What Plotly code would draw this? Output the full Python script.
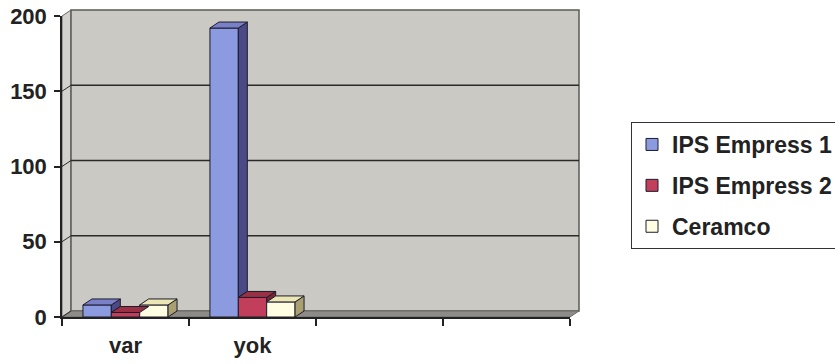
import plotly.graph_objects as go

categories = ["var", "yok", " ", "  "]
data_categories = ["var", "yok"]
series_names = ["IPS Empress 1", "IPS Empress 2", "Ceramco"]
ips_empress_1 = [8, 192]
ips_empress_2 = [3, 13]
ceramco = [8, 10]
y_ticks = [0, 50, 100, 150, 200]

front_colors = ["#8c9be0", "#c23f5c", "#fffde2"]
top_colors = ["#7a80c8", "#9a3043", "#ece6b4"]
side_colors = ["#4b4a86", "#7a2535", "#a8a070"]

W, H = 835, 364
ML, MR, MT, MB = 62, 265, 16, 47
PW, PH = W - ML - MR, H - MT - MB
Y_MAX = 200
N_CAT = len(categories)
BARGAP = 0.33
DEPTH_X_PX, DEPTH_Y_PX = 9, 6

dxd = DEPTH_X_PX / PW          # depth in x-domain units
dyd = DEPTH_Y_PX / PH          # depth in y-domain units
dxc = DEPTH_X_PX * N_CAT / PW  # depth in category units
dyu = DEPTH_Y_PX * Y_MAX / PH  # depth in y data units

series = [ips_empress_1, ips_empress_2, ceramco]

fig = go.Figure()
for name, vals, col in zip(series_names, series, front_colors):
    fig.add_trace(go.Bar(
        x=data_categories, y=vals, name=name,
        marker=dict(color=col, line=dict(color="#1c1c2c", width=1)),
    ))

shapes = []
# back wall, floor, side wall
shapes.append(dict(type="path", xref="x domain", yref="y domain", layer="below",
                   path=f"M0,0 L0,1 L{dxd},{1+dyd} L{dxd},{dyd} Z",
                   fillcolor="#d3d1cc", line=dict(color="#6a6a6a", width=1)))
shapes.append(dict(type="rect", xref="x domain", yref="y domain", layer="below",
                   x0=dxd, x1=1 + dxd, y0=dyd, y1=1 + dyd,
                   fillcolor="#cbc9c3", line=dict(color="#5a5a5a", width=1.5)))
shapes.append(dict(type="path", xref="x domain", yref="y domain", layer="below",
                   path=f"M0,0 L1,0 L{1+dxd},{dyd} L{dxd},{dyd} Z",
                   fillcolor="#8d8b87", line=dict(color="#6a6a68", width=1)))
# gridlines on back wall + diagonal tick connectors
for v in y_ticks[1:-1]:
    shapes.append(dict(type="line", xref="x domain", yref="y", layer="below",
                       x0=dxd, x1=1 + dxd, y0=v + dyu, y1=v + dyu,
                       line=dict(color="#2a2a2a", width=1.5)))
for v in y_ticks[:-1]:
    shapes.append(dict(type="line", xref="x domain", yref="y", layer="below",
                       x0=0, x1=dxd, y0=v, y1=v + dyu,
                       line=dict(color="#2a2a2a", width=1)))

# 3D faces of the bars
gw = 1 - BARGAP
bw = gw / len(series)
for ci in range(len(data_categories)):
    for j, vals in enumerate(series):
        v = vals[ci]
        xl = ci - gw / 2 + j * bw
        xr = xl + bw
        nxt = series[j + 1][ci] if j + 1 < len(series) else 0
        if v > nxt:
            shapes.append(dict(type="path", xref="x", yref="y", layer="above",
                               path=f"M{xr},{nxt} L{xr},{v} L{xr+dxc},{v+dyu} L{xr+dxc},{nxt+dyu} Z",
                               fillcolor=side_colors[j], line=dict(color="#1c1c2c", width=1)))
        shapes.append(dict(type="path", xref="x", yref="y", layer="above",
                           path=f"M{xl},{v} L{xr},{v} L{xr+dxc},{v+dyu} L{xl+dxc},{v+dyu} Z",
                           fillcolor=top_colors[j], line=dict(color="#1c1c2c", width=1)))

font_family = "Arial, 'Liberation Sans', sans-serif"
fig.update_layout(
    width=W, height=H,
    margin=dict(l=ML, r=MR, t=MT, b=MB, autoexpand=False),
    paper_bgcolor="white", plot_bgcolor="rgba(0,0,0,0)",
    barmode="group", bargap=BARGAP, bargroupgap=0,
    shapes=shapes,
    font=dict(family=font_family, color="#222222", size=22, weight="bold"),
    showlegend=True,
    legend=dict(xref="container", yref="container", x=631 / W, y=1 - 122 / H,
                xanchor="left", yanchor="top",
                bgcolor="white", bordercolor="#333333", borderwidth=1,
                font=dict(family=font_family, size=23, color="#222222", weight="bold"),
                tracegroupgap=8),
    xaxis=dict(type="category", categoryorder="array", categoryarray=categories,
               range=[-0.5, N_CAT - 0.5], tickson="boundaries",
               showline=True, linecolor="#222222", linewidth=1.5,
               ticks="outside", ticklen=7, tickcolor="#222222", tickwidth=1.5,
               ticklabelstandoff=8, showgrid=False, zeroline=False, fixedrange=True),
    yaxis=dict(range=[0, Y_MAX], tickvals=y_ticks, showline=True,
               linecolor="#222222", linewidth=1.5, ticks="outside", ticklen=6,
               tickcolor="#222222", tickwidth=1.5, ticklabelstandoff=3,
               showgrid=False, zeroline=False, fixedrange=True),
)
for i, tr in enumerate(fig.data):
    tr.legendgroup = f"g{i}"

fig.write_html("out.html")
